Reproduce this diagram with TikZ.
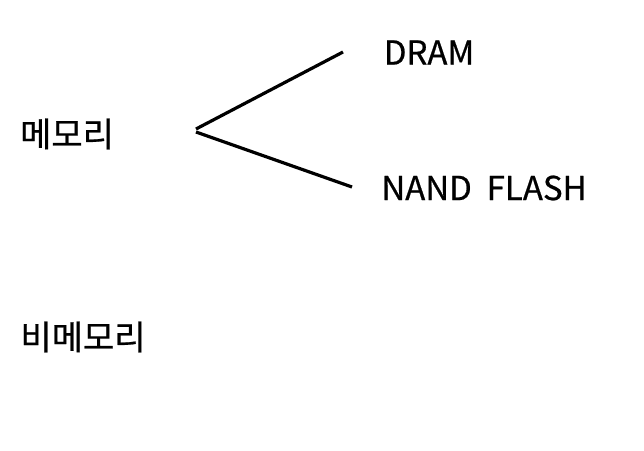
\documentclass[tikz,border=0pt]{standalone}
\usepackage{fontspec}
\setmainfont{Noto Sans CJK KR}
\newfontfamily\krfont[FakeBold=0.6]{Noto Sans CJK KR}
\begin{document}
\begin{tikzpicture}[x=1pt,y=-1pt,
  lbl/.style={inner sep=0pt, text=black},
  kr/.style={lbl, font=\krfont\fontsize{34}{40}\selectfont},
  en/.style={lbl, font=\krfont\fontsize{33}{40}\selectfont},
  branch/.style={line width=3.2pt, black}]
\useasboundingbox (0,0) rectangle (644,450);
\node[kr] (mem) at (67,134) {메모리};
\node[kr] (nonmem) at (83,337) {비메모리};
\node[en] (dram) at (429,52.5) {DRAM};
\node[en] (nand) at (484,188) {NAND\ \ FLASH};
\coordinate (j1) at (196,129);
\coordinate (j2) at (196,132);
\coordinate (e1) at (343,52);
\coordinate (e2) at (352,187);
\draw[branch] (j1) -- (e1);
\draw[branch] (j2) -- (e2);
\end{tikzpicture}
\end{document}
